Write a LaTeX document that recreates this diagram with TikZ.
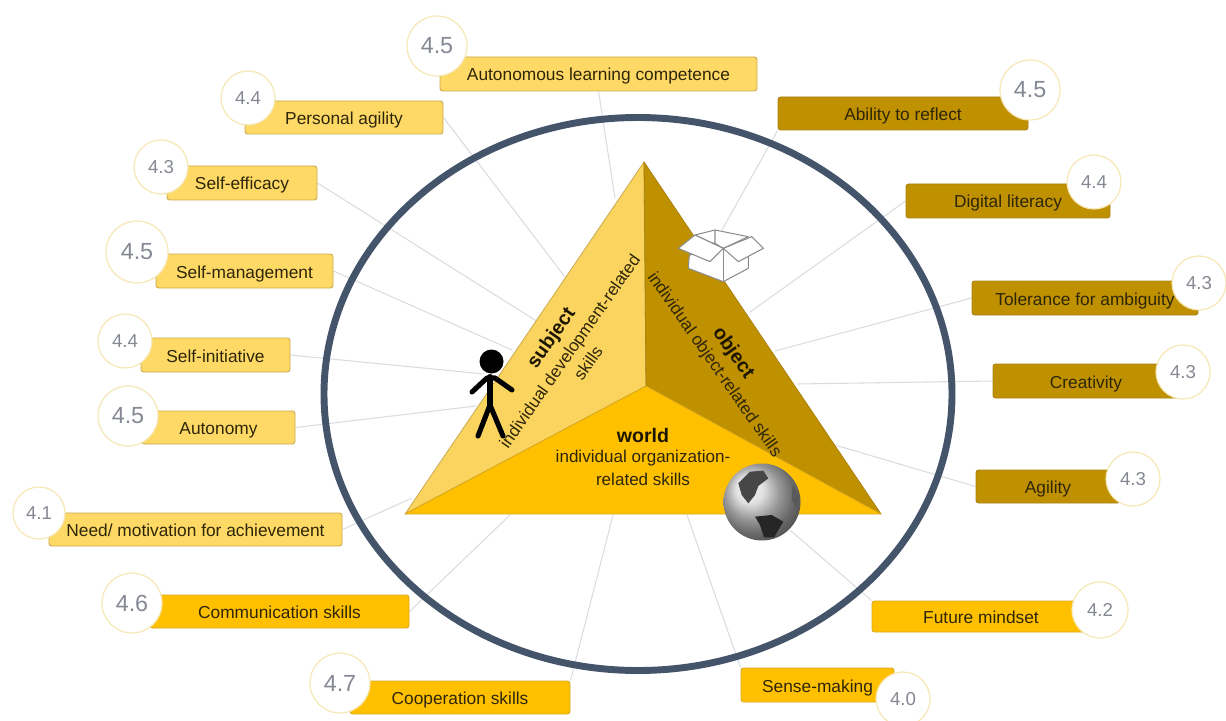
\documentclass[tikz,border=0pt]{standalone}
\usepackage{fontspec}
\setmainfont{Liberation Sans}
\usetikzlibrary{backgrounds,shadings,shapes.geometric}
\definecolor{subj}{HTML}{FFD966}
\definecolor{subjb}{HTML}{C9A94F}
\definecolor{subjface}{HTML}{FBD45F}
\definecolor{obj}{HTML}{BF9000}
\definecolor{objb}{HTML}{A98210}
\definecolor{wrld}{HTML}{FFC000}
\definecolor{wrldb}{HTML}{D9A81C}
\definecolor{ringc}{HTML}{44546A}
\definecolor{linkc}{HTML}{DADCE2}
\definecolor{numc}{HTML}{858994}
\definecolor{badgeb}{HTML}{F6E7B4}
\definecolor{inkc}{HTML}{2E2608}
\tikzset{
  x=0.75pt,y=-0.75pt,
  sz/.style 2 args={minimum width=0.75pt*#1,minimum height=0.75pt*#2},
  skill/.style={rectangle,rounded corners=2pt,inner sep=0pt,font=\fontsize{13}{15}\selectfont,text=inkc,line width=0.7pt,text height=10.5pt,text depth=0pt},
  subjbox/.style={skill,fill=subj,draw=subjb},
  objbox/.style={skill,fill=obj,draw=objb},
  wrldbox/.style={skill,fill=wrld,draw=wrldb},
  badge/.style={circle,inner sep=0pt,fill=white,draw=badgeb,line width=0.9pt,text=numc,minimum size=0.75pt*2*#1},
  badge/.default=27,
  bignum/.style={font=\fontsize{17.5}{19}\selectfont},
  smallnum/.style={font=\fontsize{14}{16}\selectfont},
  link/.style={draw=linkc,line width=0.8pt},
  pane/.style={line join=round,line width=0.6pt},
  headtxt/.style={font=\fontsize{14.7}{17}\selectfont\bfseries,text=black!85!obj,inner sep=0pt},
  bodytxt/.style={font=\fontsize{12.8}{15}\selectfont,text=inkc,inner sep=0pt},
  boxline/.style={draw=black!45,line width=0.8pt,fill=white,line join=round},
  personline/.style={draw=black,line width=3.8pt,line cap=round,line join=round},
}
\begin{document}
\begin{tikzpicture}
\useasboundingbox (0,0) rectangle (1226,720);

% free ends of the connectors
\coordinate (eAL) at (615,198);
\coordinate (ePA) at (565,277);
\coordinate (eSE) at (538,322);
\coordinate (eSM) at (512,350);
\coordinate (eSI) at (484,374);
\coordinate (eAU) at (476,406);
\coordinate (eNM) at (412,498);
\coordinate (eCO) at (510,515);
\coordinate (eCP) at (613,515);
\coordinate (eSN) at (687,515);
\coordinate (eFM) at (790,530);
\coordinate (eAG) at (835,445);
\coordinate (eCR) at (797,384);
\coordinate (eTA) at (775,351);
\coordinate (eDL) at (750,312);
\coordinate (eAR) at (722,230);

% triangle corners
\coordinate (apex) at (644,162);
\coordinate (tl) at (405,514);
\coordinate (tr) at (881,514);
\coordinate (mid) at (646,386);

% ring
\node[draw=ringc,line width=5.2pt,ellipse,inner sep=0pt,minimum width=0.75pt*628,minimum height=0.75pt*553] (ring) at (638,394) {};

% triangle panes
\fill[subjface,draw=subjb,pane] (apex) -- (tl) -- (mid) -- cycle;
\fill[obj,draw=objb,pane] (apex) -- (mid) -- (tr) -- cycle;
\fill[wrld,draw=wrldb,pane] (tl) -- (mid) -- (tr) -- cycle;

% pane texts
\node[headtxt,rotate=55] (tsub) at (552,338) {subject};
\node[bodytxt,rotate=55] (tsubb) at (571,352) {individual development-related};
\node[bodytxt,rotate=55] (tsubc) at (588,363) {skills};
\node[headtxt,rotate=-55] (tobj) at (733,353) {object};
\node[bodytxt,rotate=-55] (tobjb) at (714,365) {individual object-related skills};
\node[headtxt] (twor) at (643,435) {world};
\node[bodytxt] (tworb) at (643,458) {individual organization-};
\node[bodytxt] (tworc) at (643,479) {related skills};

% person
\fill[black] (491.5,361.5) circle[radius=12];
\draw[personline,line width=4.6pt] (490,377) -- (490,405);
\draw[personline] (472,392) -- (487,378) -- (495,378) -- (512,390);
\draw[personline] (490,405) -- (478,436);
\draw[personline] (490,405) -- (503,436);

% box
\begin{scope}[shift={(660,200)},x=0.25pt,y=-0.25pt]
\filldraw[boxline] (88,165) -- (85,205) -- (190,245) -- (265,205) -- (265,165) -- (190,145) -- cycle;
\filldraw[boxline] (105,105) -- (165,90) -- (265,110) -- (190,145) -- cycle;
\draw[boxline] (165,90) -- (165,130) -- (190,145);
\draw[boxline,fill=none] (135,128) -- (165,130);
\filldraw[boxline] (55,145) -- (105,105) -- (190,145) -- (150,185) -- cycle;
\filldraw[boxline] (190,145) -- (275,110) -- (310,145) -- (235,185) -- cycle;
\draw[boxline,fill=none] (190,145) -- (190,245);
\end{scope}

% globe
\shade[ball color=black!16] (762,502) circle[radius=38.5];
\begin{scope}[shift={(700,450)},x=0.25pt,y=-0.25pt]
\fill[black!72] (115,100) -- (150,65) -- (190,62) -- (205,85) -- (175,108) -- (165,135) -- (145,160) -- (125,135) -- cycle;
\fill[black!65] (278,105) -- (298,140) -- (292,178) -- (275,150) -- cycle;
\fill[black!85] (165,200) -- (215,195) -- (250,215) -- (222,262) -- (192,262) -- (180,225) -- cycle;
\end{scope}

% skill boxes
\node[subjbox,sz={317}{34}] (AL) at (598.5,74) {Autonomous learning competence};
\node[subjbox,sz={198}{33}] (PA) at (344,117.5) {Personal agility};
\node[subjbox,sz={150}{34}] (SE) at (242,183) {Self-efficacy};
\node[subjbox,sz={177}{34}] (SM) at (244.5,271) {Self-management};
\node[subjbox,sz={149}{34}] (SI) at (215.5,355) {Self-initiative};
\node[subjbox,sz={153}{33}] (AU) at (218.5,427.5) {Autonomy};
\node[subjbox,sz={293}{33}] (NM) at (195.5,529.5) {Need/ motivation for achievement};
\node[wrldbox,sz={259}{33}] (CO) at (279.5,611.5) {Communication skills};
\node[wrldbox,sz={220}{33}] (CP) at (460,697.5) {Cooperation skills};
\node[wrldbox,sz={153}{34}] (SN) at (817.5,685) {Sense-making};
\node[wrldbox,sz={218}{31}] (FM) at (981,616.5) {Future mindset};
\node[objbox,sz={144}{33}] (AG) at (1048,486.5) {Agility};
\node[objbox,sz={186}{34}] (CR) at (1086,381) {Creativity};
\node[objbox,sz={226}{34}] (TA) at (1085,298) {Tolerance for ambiguity};
\node[objbox,sz={204}{34}] (DL) at (1008,201) {Digital literacy};
\node[objbox,sz={250}{33}] (AR) at (903,113.5) {Ability to reflect};

% rating badges
\node[badge=30,bignum] (bAL) at (437,46) {4.5};
\node[badge=27,smallnum] (bPA) at (248,98) {4.4};
\node[badge=27,smallnum] (bSE) at (161,167) {4.3};
\node[badge=31,bignum] (bSM) at (137,252) {4.5};
\node[badge=27,smallnum] (bSI) at (125,341) {4.4};
\node[badge=30,bignum] (bAU) at (128,416) {4.5};
\node[badge=26,smallnum] (bNM) at (39,513) {4.1};
\node[badge=30,bignum] (bCO) at (132,603) {4.6};
\node[badge=30,bignum] (bCP) at (340,683) {4.7};
\node[badge=27,smallnum] (bSN) at (903,699) {4.0};
\node[badge=28,smallnum] (bFM) at (1100,610) {4.2};
\node[badge=27,smallnum] (bAG) at (1133,479) {4.3};
\node[badge=27,smallnum] (bCR) at (1183,372) {4.3};
\node[badge=27,smallnum] (bTA) at (1199,283) {4.3};
\node[badge=27,smallnum] (bDL) at (1094,182) {4.4};
\node[badge=30,bignum] (bAR) at (1030,90) {4.5};

% connectors, behind everything
\begin{scope}[on background layer]
\draw[link] (AL.south) -- (eAL);
\draw[link] (PA.east) -- (ePA);
\draw[link] (SE.east) -- (eSE);
\draw[link] (SM.east) -- (eSM);
\draw[link] (SI.east) -- (eSI);
\draw[link] (AU.east) -- (eAU);
\draw[link] (NM.east) -- (eNM);
\draw[link] (CO.east) -- (eCO);
\draw[link] (CP.north east) -- (eCP);
\draw[link] (SN.north west) -- (eSN);
\draw[link] (FM.north west) -- (eFM);
\draw[link] (AG.west) -- (eAG);
\draw[link] (CR.west) -- (eCR);
\draw[link] (TA.west) -- (eTA);
\draw[link] (DL.west) -- (eDL);
\draw[link] (AR.south west) -- (eAR);
\end{scope}
\end{tikzpicture}
\end{document}
